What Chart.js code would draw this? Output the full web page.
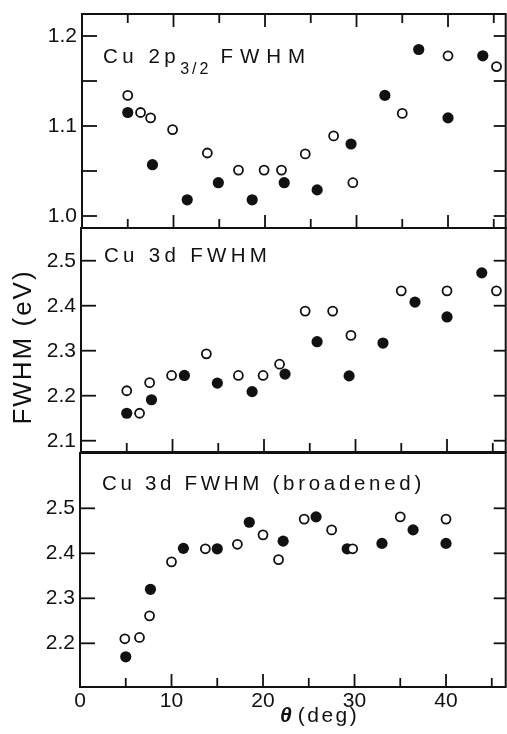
<!DOCTYPE html>
<html>
<head>
<meta charset="utf-8">
<script src="https://cdn.jsdelivr.net/npm/chart.js@4.4.1/dist/chart.umd.min.js"></script>
<style>
  html, body { margin: 0; padding: 0; background: #fff; overflow: hidden; }
  body { width: 507px; height: 734px; position: relative; }
  canvas { position: absolute; left: 0; }
</style>
</head>
<body>
<canvas id="p1" width="512" height="240" style="top:0px"></canvas>
<canvas id="p2" width="512" height="244" style="top:220px"></canvas>
<canvas id="p3" width="512" height="294" style="top:440px"></canvas>
<script>
// ---- data: theta (deg) vs FWHM (eV); "open" = hollow circles, "fill" = solid dots ----
const p1OpenX = [5.0, 6.4, 7.5, 9.9, 13.7, 17.1, 19.9, 21.8, 24.4, 27.5, 29.6, 35.0, 40.0, 45.3];
const p1OpenY = [1.134, 1.115, 1.109, 1.096, 1.070, 1.051, 1.051, 1.051, 1.069, 1.089, 1.037, 1.114, 1.178, 1.166];
const p1FillX = [5.0, 7.7, 11.5, 14.9, 18.6, 22.1, 25.7, 29.4, 33.1, 36.8, 40.0, 43.8];
const p1FillY = [1.115, 1.057, 1.018, 1.037, 1.018, 1.037, 1.029, 1.080, 1.134, 1.185, 1.109, 1.178];

const p2OpenX = [5.0, 6.4, 7.5, 9.9, 13.7, 17.2, 19.9, 21.7, 24.5, 27.5, 29.5, 35.0, 40.0, 45.4];
const p2OpenY = [2.211, 2.161, 2.229, 2.245, 2.293, 2.245, 2.245, 2.270, 2.388, 2.388, 2.334, 2.433, 2.433, 2.433];
const p2FillX = [5.0, 7.7, 11.3, 14.9, 18.7, 22.3, 25.8, 29.3, 33.0, 36.5, 40.0, 43.8];
const p2FillY = [2.161, 2.191, 2.245, 2.228, 2.209, 2.248, 2.320, 2.244, 2.317, 2.408, 2.375, 2.473];

const p3OpenX = [4.9, 6.5, 7.6, 10.0, 13.7, 17.2, 20.0, 21.7, 24.5, 27.5, 29.8, 35.0, 40.0];
const p3OpenY = [2.210, 2.213, 2.261, 2.381, 2.410, 2.420, 2.441, 2.386, 2.476, 2.452, 2.410, 2.481, 2.476];
const p3FillX = [5.0, 7.7, 11.3, 15.0, 18.5, 22.2, 25.8, 29.2, 33.0, 36.4, 40.0];
const p3FillY = [2.170, 2.320, 2.411, 2.410, 2.469, 2.427, 2.481, 2.410, 2.422, 2.452, 2.422];

// ---- axes ----
const xTicks = [0, 5, 10, 15, 20, 25, 30, 35, 40, 45];
const xLabels = [0, 10, 20, 30, 40];
const p1YTicks = [1.0, 1.05, 1.1, 1.15, 1.2];
const p1YLabels = [1.0, 1.1, 1.2];
const p2YTicks = [2.1, 2.2, 2.3, 2.4, 2.5];
const p3YTicks = [2.2, 2.3, 2.4, 2.5];

const INK = '#111';
const FONT = '"Liberation Sans", Arial, sans-serif';

function pts(xs, ys) {
  return xs.map((x, i) => ({ x: x, y: ys[i] }));
}

function line(ctx, x1, y1, x2, y2) {
  ctx.beginPath();
  ctx.moveTo(x1, y1);
  ctx.lineTo(x2, y2);
  ctx.stroke();
}

// frame, inward ticks and the in-panel captions
const panelPlugin = {
  id: 'panel',
  afterDraw(chart, args, o) {
    const { ctx, chartArea: a, scales } = chart;
    const x = scales.x, y = scales.y;
    ctx.save();
    ctx.strokeStyle = INK;
    ctx.fillStyle = INK;
    ctx.lineWidth = 2;
    ctx.strokeRect(a.left, a.top, a.right - a.left, a.bottom - a.top);

    ctx.lineWidth = 1.8;
    xTicks.forEach(v => {
      if (v <= 0) return;
      const px = x.getPixelForValue(v);
      const len = v % 10 === 0 ? 13 : 9;
      line(ctx, px, a.bottom, px, a.bottom - len);
      if (o.topTicks) line(ctx, px, a.top, px, a.top + len);
    });
    o.yTicks.forEach(v => {
      const py = y.getPixelForValue(v);
      line(ctx, a.left, py, a.left + 15, py);
      line(ctx, a.right, py, a.right - 12, py);
    });

    // caption
    ctx.textBaseline = 'alphabetic';
    ctx.textAlign = 'left';
    let cx = o.titleX;
    o.title.forEach(part => {
      ctx.font = part.size + 'px ' + FONT;
      ctx.letterSpacing = part.spacing + 'px';
      ctx.fillText(part.text, cx, o.titleY + (part.dy || 0));
      cx += ctx.measureText(part.text).width + (part.gap || 0);
    });

    if (o.yTitle) {
      ctx.save();
      ctx.translate(o.yTitle.x, o.yTitle.y);
      ctx.rotate(-Math.PI / 2);
      ctx.font = '26px ' + FONT;
      ctx.letterSpacing = '2px';
      ctx.textAlign = 'center';
      ctx.textBaseline = 'middle';
      ctx.fillText(o.yTitle.text, 0, 0);
      ctx.restore();
    }

    if (o.xTitle) {
      ctx.letterSpacing = '0px';
      ctx.font = 'italic bold 21px ' + FONT;
      ctx.fillText('θ', o.xTitle.x, o.xTitle.y);
      const w = ctx.measureText('θ').width;
      ctx.font = '21px ' + FONT;
      ctx.letterSpacing = '2.5px';
      ctx.fillText('(deg)', o.xTitle.x + w + 6, o.xTitle.y);
    }
    ctx.restore();
  }
};

function makePanel(id, p) {
  const yTicks = p.yTicks;
  const yLabels = p.yLabels || p.yTicks;
  return new Chart(document.getElementById(id), {
    type: 'scatter',
    data: {
      datasets: [
        {
          data: pts(p.openX, p.openY),
          pointStyle: 'circle',
          pointRadius: 4.5,
          pointBorderWidth: 1.8,
          pointBorderColor: INK,
          pointBackgroundColor: '#fff'
        },
        {
          data: pts(p.fillX, p.fillY),
          pointStyle: 'circle',
          pointRadius: 5.6,
          pointBorderWidth: 0,
          pointBackgroundColor: INK
        }
      ]
    },
    options: {
      responsive: false,
      animation: false,
      events: [],
      layout: { padding: { top: p.padTop, bottom: p.padBottom, left: 0, right: 4 } },
      plugins: {
        legend: { display: false },
        tooltip: { enabled: false },
        panel: p.deco
      },
      scales: {
        x: {
          type: 'linear',
          min: 0,
          max: p.xMax,
          display: p.showX,
          grid: { display: false, drawTicks: false },
          border: { display: false },
          afterBuildTicks: s => { s.ticks = xTicks.map(v => ({ value: v })); },
          afterFit: s => { s.height = p.showX ? 47 : 0; s.paddingLeft = 0; s.paddingRight = 0; },
          ticks: {
            autoSkip: false,
            maxRotation: 0,
            padding: 2,
            color: INK,
            font: { family: FONT, size: 21 },
            callback: v => xLabels.includes(v) ? String(v) : ''
          }
        },
        y: {
          type: 'linear',
          min: p.yMin,
          max: p.yMax,
          grid: { display: false, drawTicks: false },
          border: { display: false },
          afterBuildTicks: s => { s.ticks = yTicks.map(v => ({ value: v })); },
          afterFit: s => { s.width = p.left; s.paddingTop = 0; s.paddingBottom = 0; },
          ticks: {
            autoSkip: false,
            padding: 5,
            color: INK,
            font: { family: FONT, size: 21 },
            callback: v => yLabels.some(l => Math.abs(l - v) < 1e-9) ? v.toFixed(1) : ''
          }
        }
      }
    },
    plugins: [panelPlugin]
  });
}

// 9.2 px per degree in every panel
makePanel('p1', {
  openX: p1OpenX, openY: p1OpenY, fillX: p1FillX, fillY: p1FillY,
  yTicks: p1YTicks, yLabels: p1YLabels,
  yMin: 0.98667, yMax: 1.22444, xMax: 426 / 9.2,
  left: 82, padTop: 14, padBottom: 12, showX: false,
  deco: {
    yTicks: p1YTicks, topTicks: true, titleX: 103, titleY: 63,
    title: [
      { text: 'Cu 2p', size: 20.5, spacing: 4.5, gap: 0 },
      { text: '3/2', size: 16, spacing: 3, dy: 11, gap: 9 },
      { text: 'FWHM', size: 20.5, spacing: 7 }
    ]
  }
});

makePanel('p2', {
  openX: p2OpenX, openY: p2OpenY, fillX: p2FillX, fillY: p2FillY,
  yTicks: p2YTicks,
  yMin: 2.0749, yMax: 2.5727, xMax: 427 / 9.2,
  left: 81, padTop: 8, padBottom: 12, showX: false,
  deco: {
    yTicks: p2YTicks, topTicks: false, titleX: 104, titleY: 42,
    title: [{ text: 'Cu 3d FWHM', size: 20.5, spacing: 4.3 }],
    yTitle: { text: 'FWHM (eV)', x: 24, y: 127 }
  }
});

makePanel('p3', {
  openX: p3OpenX, openY: p3OpenY, fillX: p3FillX, fillY: p3FillY,
  yTicks: p3YTicks,
  yMin: 2.1029, yMax: 2.6229, xMax: 428 / 9.2,
  left: 80, padTop: 13, padBottom: 0, showX: true,
  deco: {
    yTicks: p3YTicks, topTicks: false, titleX: 102, titleY: 50,
    title: [{ text: 'Cu 3d FWHM (broadened)', size: 20.5, spacing: 3.7 }],
    xTitle: { x: 280, y: 282 }
  }
});
</script>
</body>
</html>
